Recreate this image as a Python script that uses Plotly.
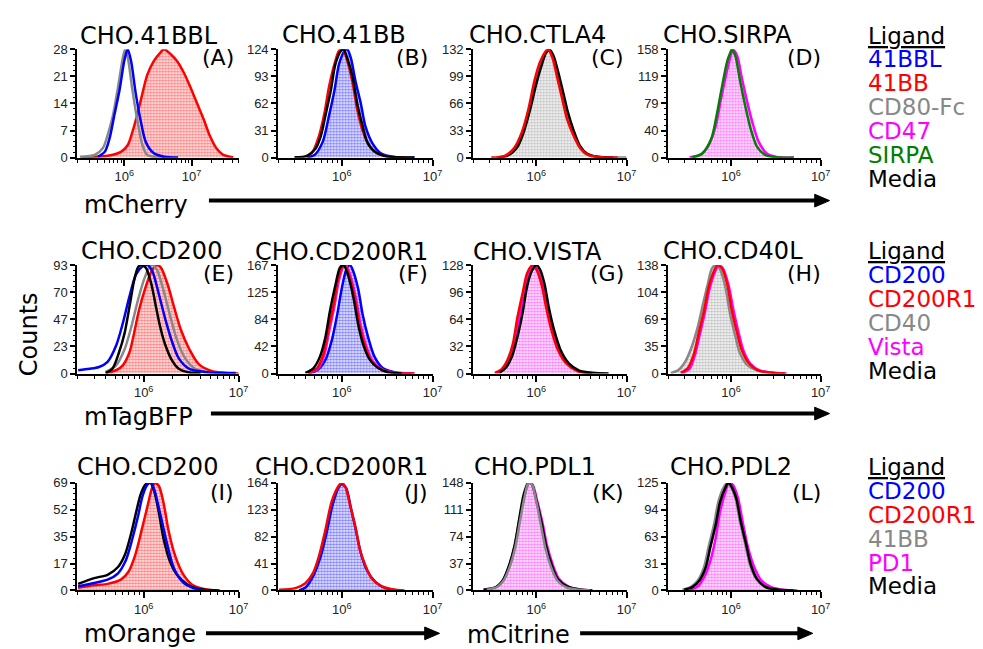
import plotly.graph_objects as go

W, H = 983, 649

# ---------------- DATA (log10 fluorescence, counts) ----------------
# Panel A  CHO.41BBL (mCherry)
A_41BB_x = [5.36, 5.75, 5.95, 6.05, 6.12, 6.2, 6.27, 6.34, 6.44, 6.54, 6.59, 6.69, 6.78, 6.88, 6.98, 7.08, 7.18, 7.27, 7.37, 7.47, 7.62]
A_41BB_y = [0.1, 0.5, 1.5, 3.2, 6.6, 11.6, 16.6, 21.3, 25, 27.2, 28, 26.7, 25, 22.1, 18.3, 14.1, 9.9, 5.7, 2.4, 0.7, 0.1]
A_CD80_x = [5.34, 5.56, 5.68, 5.75, 5.83, 5.9, 5.98, 6.01, 6.05, 6.12, 6.2, 6.27, 6.34, 6.44, 6.6]
A_CD80_y = [0.25, 0.7, 2.4, 5.7, 10.8, 17.5, 25.9, 27.8, 26, 17.5, 9, 3.2, 0.7, 0.2, 0]
A_41BBL_x = [5.61, 5.71, 5.78, 5.85, 5.93, 6.0, 6.05, 6.1, 6.17, 6.25, 6.32, 6.44, 6.59, 6.8]
A_41BBL_y = [0.25, 1.5, 4.9, 10.8, 17.5, 25, 28, 25, 16.6, 9, 4, 1.1, 0.25, 0]

# Panel B  CHO.41BB
B_41BBL_x = [5.62, 5.7, 5.79, 5.86, 5.92, 5.97, 6.03, 6.06, 6.1, 6.15, 6.21, 6.26, 6.34, 6.43, 6.58, 6.8]
B_41BBL_y = [0.4, 3, 18, 48, 77, 107, 122, 124, 114, 88, 62, 36, 16, 5, 0.7, 0]
B_41BB_x = [5.6, 5.68, 5.75, 5.81, 5.86, 5.92, 5.97, 6.01, 6.06, 6.12, 6.17, 6.23, 6.3, 6.39, 6.54, 6.7]
B_41BB_y = [1, 7, 25, 51, 81, 107, 122, 124, 111, 85, 55, 31, 14, 5, 0.7, 0]
B_Media_x = [5.48, 5.62, 5.71, 5.77, 5.82, 5.88, 5.93, 5.99, 6.02, 6.06, 6.12, 6.17, 6.23, 6.28, 6.36, 6.47, 6.61, 6.8]
B_Media_y = [0.4, 2, 10, 25, 48, 77, 107, 122, 124, 114, 92, 62, 36, 18, 7, 2, 0.4, 0]

# Panel C  CHO.CTLA4
C_CD80_x = [5.56, 5.67, 5.78, 5.85, 5.92, 6.0, 6.05, 6.11, 6.14, 6.18, 6.23, 6.29, 6.34, 6.4, 6.47, 6.54, 6.65, 6.8, 7.0]
C_CD80_y = [0.4, 2.4, 13, 31, 58, 94, 113, 129, 132, 125, 106, 78, 55, 35, 15, 5, 1.2, 0.4, 0]
C_Media_x = [5.58, 5.68, 5.79, 5.86, 5.93, 6.0, 6.06, 6.11, 6.15, 6.19, 6.24, 6.3, 6.35, 6.41, 6.48, 6.56, 6.68, 6.85]
C_Media_y = [0.4, 2.4, 13, 31, 58, 90, 113, 128, 131, 124, 105, 78, 55, 34, 15, 5, 1, 0]
C_41BB_x = [5.5, 5.64, 5.75, 5.84, 5.91, 5.98, 6.04, 6.1, 6.13, 6.18, 6.23, 6.29, 6.34, 6.42, 6.49, 6.58, 6.73, 6.9]
C_41BB_y = [0, 1.5, 11, 31, 58, 94, 116, 129, 132, 121, 98, 70, 47, 25, 11, 3, 0.4, 0]

# Panel D  CHO.SIRPA
D_CD47_x = [5.54, 5.66, 5.75, 5.83, 5.88, 5.94, 6.0, 6.02, 6.07, 6.12, 6.18, 6.24, 6.31, 6.4, 6.51, 6.7]
D_CD47_y = [0.5, 4, 18, 46, 79, 117, 150, 158, 148, 117, 82, 51, 23, 6, 1, 0]
D_SIRPA_x = [5.57, 5.68, 5.78, 5.84, 5.9, 5.96, 6.0, 6.01, 6.05, 6.1, 6.16, 6.22, 6.29, 6.38, 6.5, 6.7]
D_SIRPA_y = [0.5, 6, 27, 61, 103, 141, 155, 158, 148, 113, 75, 42, 16, 4, 0.5, 0]

# Panel E  CHO.CD200 (mTagBFP)
E_CD200R1_x = [5.6, 5.71, 5.78, 5.85, 5.9, 5.95, 6.02, 6.09, 6.14, 6.18, 6.25, 6.32, 6.39, 6.48, 6.58, 6.72, 6.86, 7.0]
E_CD200R1_y = [0.5, 2.8, 7, 18, 35, 54, 74, 89, 93, 91, 77, 57, 38, 21, 8, 2, 0.5, 0]
E_CD40_x = [5.6, 5.71, 5.8, 5.87, 5.94, 6.01, 6.06, 6.09, 6.14, 6.21, 6.28, 6.35, 6.43, 6.54, 6.71, 6.9]
E_CD40_y = [1.4, 7, 21, 40, 63, 82, 91, 93, 89, 71, 49, 29, 14, 4, 0.8, 0]
E_CD200_x = [5.31, 5.43, 5.53, 5.62, 5.71, 5.78, 5.85, 5.92, 5.99, 6.04, 6.09, 6.16, 6.23, 6.3, 6.37, 6.48, 6.65, 6.97]
E_CD200_y = [2.8, 4, 5.6, 10, 24, 43, 66, 85, 92, 93, 88, 68, 46, 27, 13, 4, 1.4, 0.5]
E_Media_x = [5.6, 5.67, 5.74, 5.8, 5.85, 5.9, 5.94, 5.97, 6.02, 6.08, 6.13, 6.18, 6.23, 6.3, 6.37, 6.48, 6.6]
E_Media_y = [0.5, 4, 18, 35, 57, 80, 91, 93, 91, 77, 57, 38, 24, 11, 4, 0.8, 0]

# Panel F  CHO.CD200R1 (mTagBFP)
F_CD200_x = [5.63, 5.73, 5.82, 5.89, 5.95, 6.0, 6.05, 6.09, 6.12, 6.18, 6.23, 6.29, 6.36, 6.45, 6.58, 6.77]
F_CD200_y = [0, 5, 21, 51, 91, 131, 160, 167, 160, 131, 91, 56, 26, 8.5, 2, 0]
F_Vista_x = [5.64, 5.74, 5.81, 5.86, 5.92, 5.97, 6.02, 6.05, 6.1, 6.16, 6.21, 6.27, 6.34, 6.45, 6.6, 6.8]
F_Vista_y = [1, 8, 30, 64, 104, 144, 165, 166, 148, 113, 73, 42, 19, 6, 1, 0]
F_CD200R1_x = [5.63, 5.73, 5.8, 5.85, 5.91, 5.96, 6.01, 6.04, 6.09, 6.15, 6.2, 6.26, 6.33, 6.44, 6.59, 6.8]
F_CD200R1_y = [1, 8.5, 31, 66, 106, 146, 165, 165, 146, 111, 71, 41, 18, 6, 1, 0]
F_Media_x = [5.6, 5.69, 5.76, 5.82, 5.87, 5.93, 5.98, 6.02, 6.07, 6.13, 6.18, 6.24, 6.31, 6.4, 6.51, 6.66]
F_Media_y = [1, 8.5, 26, 56, 96, 136, 163, 167, 151, 116, 76, 43, 21, 8.5, 2, 0]

# Panel G  CHO.VISTA
G_Vista_x = [5.56, 5.63, 5.7, 5.76, 5.81, 5.87, 5.92, 5.97, 6.01, 6.07, 6.12, 6.18, 6.25, 6.34, 6.47, 6.62]
G_Vista_y = [0.8, 4.6, 16, 35, 66, 96, 119, 128, 123, 104, 77, 50, 27.5, 12, 2.7, 0]
G_CD200R1_x = [5.54, 5.61, 5.68, 5.74, 5.79, 5.85, 5.9, 5.96, 6.0, 6.06, 6.11, 6.17, 6.24, 6.33, 6.46, 6.6]
G_CD200R1_y = [0.8, 4.6, 16, 35, 66, 96, 119, 128, 123, 104, 77, 50, 27.5, 12, 2.7, 0]
G_Media_x = [5.59, 5.66, 5.73, 5.79, 5.85, 5.9, 5.95, 6.0, 6.04, 6.09, 6.14, 6.2, 6.27, 6.36, 6.47, 6.62, 6.8]
G_Media_y = [0.8, 6.5, 20, 43, 73, 104, 121, 128, 123, 106, 77, 50, 27.5, 12, 3.8, 0.8, 0]

# Panel H  CHO.CD40L
H_CD40_x = [5.33, 5.41, 5.48, 5.55, 5.63, 5.68, 5.74, 5.79, 5.84, 5.88, 5.94, 5.99, 6.05, 6.1, 6.18, 6.29, 6.43, 6.61]
H_CD40_y = [0.8, 4, 13, 30, 59, 84, 113, 134, 138, 132, 109, 76, 47, 26, 11, 4, 1.7, 0]
H_Vista_x = [5.46, 5.54, 5.6, 5.65, 5.71, 5.76, 5.82, 5.86, 5.91, 5.97, 6.03, 6.09, 6.14, 6.22, 6.32, 6.48, 6.62]
H_Vista_y = [0.8, 6, 24, 48, 78, 107, 129, 137, 134, 114, 80, 50, 29, 12, 4, 0.8, 0]
H_CD200R1_x = [5.44, 5.52, 5.59, 5.64, 5.7, 5.75, 5.81, 5.85, 5.9, 5.96, 6.01, 6.07, 6.12, 6.2, 6.3, 6.47, 6.6]
H_CD200R1_y = [0.8, 7, 26, 51, 80, 109, 130, 138, 134, 113, 80, 51, 30, 13, 4, 0.8, 0]

# Panel I  CHO.CD200 (mOrange)
I_CD200R1_x = [5.31, 5.48, 5.62, 5.76, 5.84, 5.91, 5.98, 6.04, 6.09, 6.12, 6.16, 6.21, 6.26, 6.33, 6.42, 6.52, 6.66, 6.77]
I_CD200R1_y = [1.7, 3.3, 4.2, 6.9, 12, 22.5, 39, 54, 66, 69, 67, 56, 39, 22.5, 10, 3.3, 0.6, 0]
I_Media_x = [5.31, 5.48, 5.62, 5.73, 5.8, 5.87, 5.92, 5.97, 6.02, 6.07, 6.11, 6.16, 6.21, 6.28, 6.35, 6.46, 6.56, 6.67, 6.8]
I_Media_y = [4.2, 7.9, 10, 15, 22.5, 37, 50, 62, 68, 69, 64, 50, 33, 18, 10, 3.8, 1.2, 0.2, 0]
I_CD200_x = [5.31, 5.48, 5.62, 5.73, 5.81, 5.88, 5.94, 5.99, 6.04, 6.08, 6.12, 6.18, 6.25, 6.32, 6.42, 6.56, 6.7]
I_CD200_y = [2.7, 4.8, 6.9, 11, 19, 33, 47.5, 61, 68, 69, 63, 47.5, 29, 14, 4.8, 0.8, 0]

# Panel J  CHO.CD200R1 (mOrange)
J_CD200_x = [5.53, 5.6, 5.69, 5.77, 5.84, 5.9, 5.97, 6.0, 6.05, 6.1, 6.16, 6.21, 6.28, 6.37, 6.48, 6.62]
J_CD200_y = [0, 4.4, 23, 52.5, 92, 131, 158, 162, 155.5, 126, 89, 57, 30, 13, 3.4, 0]
J_CD200R1_x = [5.31, 5.49, 5.6, 5.68, 5.75, 5.82, 5.89, 5.97, 6.0, 6.04, 6.09, 6.15, 6.2, 6.26, 6.33, 6.44, 6.59, 6.69]
J_CD200R1_y = [1, 3.4, 11, 25.5, 52.5, 92, 136, 160.5, 164, 158, 131, 97, 62, 38, 18, 6, 1, 0]

# Panel K  CHO.PDL1 (mCitrine)
K_PD1_x = [5.41, 5.56, 5.63, 5.7, 5.76, 5.81, 5.87, 5.92, 5.96, 6.01, 6.07, 6.12, 6.18, 6.25, 6.36, 6.51, 6.62]
K_PD1_y = [1, 5, 14, 34, 61, 96, 131, 148, 145, 123, 92, 61, 36, 16, 5, 0.9, 0]
K_Media_x = [5.42, 5.56, 5.63, 5.7, 5.76, 5.81, 5.86, 5.91, 5.95, 6.0, 6.06, 6.11, 6.17, 6.24, 6.35, 6.5, 6.62]
K_Media_y = [1, 5, 14, 35, 62, 98, 132, 148, 146, 124, 92, 60, 35, 15, 5, 0.9, 0]
K_41BB_x = [5.45, 5.57, 5.64, 5.71, 5.77, 5.82, 5.87, 5.91, 5.95, 6.0, 6.05, 6.1, 6.16, 6.23, 6.33, 6.48, 6.6]
K_41BB_y = [1, 5, 14, 34, 61, 96, 129, 147, 146, 122, 90, 58, 33, 14, 4, 0.8, 0]

# Panel L  CHO.PDL2 (mCitrine)
L_PD1_x = [5.54, 5.63, 5.7, 5.77, 5.83, 5.88, 5.94, 5.98, 6.02, 6.08, 6.13, 6.19, 6.26, 6.34, 6.45, 6.59, 6.74]
L_PD1_y = [0.8, 4.6, 15, 34, 61, 92, 115, 125, 123, 107, 80, 50, 27, 11.5, 3.8, 0.8, 0]
L_41BB_x = [5.46, 5.55, 5.63, 5.7, 5.75, 5.81, 5.86, 5.92, 5.96, 5.99, 6.05, 6.1, 6.16, 6.21, 6.28, 6.38, 6.52, 6.7]
L_41BB_y = [0.8, 3.8, 11.5, 27, 50, 76, 103, 120, 125, 122, 107, 80, 53.5, 30.5, 13.4, 3.8, 0.8, 0]
L_Media_x = [5.48, 5.57, 5.65, 5.72, 5.77, 5.83, 5.88, 5.94, 5.97, 6.0, 6.06, 6.11, 6.17, 6.22, 6.29, 6.39, 6.53, 6.7]
L_Media_y = [0.8, 3.8, 11.5, 27, 50, 76, 103, 120, 125, 122, 107, 80, 53.5, 30.5, 13.4, 3.8, 0.8, 0]

panel_titles = ["CHO.41BBL", "CHO.41BB", "CHO.CTLA4", "CHO.SIRPA",
                "CHO.CD200", "CHO.CD200R1", "CHO.VISTA", "CHO.CD40L",
                "CHO.CD200", "CHO.CD200R1", "CHO.PDL1", "CHO.PDL2"]
panel_letters = ["(A)", "(B)", "(C)", "(D)", "(E)", "(F)", "(G)", "(H)", "(I)", "(J)", "(K)", "(L)"]
y_tick_labels = [[0, 7, 14, 21, 28], [0, 31, 62, 93, 124], [0, 33, 66, 99, 132], [0, 40, 79, 119, 158],
                 [0, 23, 47, 70, 93], [0, 42, 84, 125, 167], [0, 32, 64, 96, 128], [0, 35, 69, 104, 138],
                 [0, 17, 35, 52, 69], [0, 41, 82, 123, 164], [0, 37, 74, 111, 148], [0, 31, 63, 94, 125]]
y_max = [28, 124, 132, 158, 93, 167, 128, 138, 69, 164, 148, 125]
x_log_max = [7.7, 7.0, 7.0, 7.0, 7.0, 7.0, 7.0, 7.0, 7.0, 7.0, 7.0, 7.0]
x_log_min = 5.301

legend_row1 = ["41BBL", "41BB", "CD80-Fc", "CD47", "SIRPA", "Media"]
legend_row2 = ["CD200", "CD200R1", "CD40", "Vista", "Media"]
legend_row3 = ["CD200", "CD200R1", "41BB", "PD1", "Media"]
channels = ["mCherry", "mTagBFP", "mOrange", "mCitrine"]

# per-panel curves: (x, y, colour, filled)
panels = [
    [(A_41BB_x, A_41BB_y, "#ff0000", True), (A_CD80_x, A_CD80_y, "#888888", False), (A_41BBL_x, A_41BBL_y, "#0000ff", False)],
    [(B_41BBL_x, B_41BBL_y, "#0000ff", True), (B_41BB_x, B_41BB_y, "#ff0000", False), (B_Media_x, B_Media_y, "#000000", False)],
    [(C_CD80_x, C_CD80_y, "#888888", True), (C_Media_x, C_Media_y, "#000000", False), (C_41BB_x, C_41BB_y, "#ff0000", False)],
    [(D_CD47_x, D_CD47_y, "#ff00ff", True), (D_SIRPA_x, D_SIRPA_y, "#008000", False)],
    [(E_CD200R1_x, E_CD200R1_y, "#ff0000", True), (E_CD40_x, E_CD40_y, "#888888", False), (E_CD200_x, E_CD200_y, "#0000ff", False), (E_Media_x, E_Media_y, "#000000", False)],
    [(F_CD200_x, F_CD200_y, "#0000ff", True), (F_Vista_x, F_Vista_y, "#ff00ff", False), (F_CD200R1_x, F_CD200R1_y, "#ff0000", False), (F_Media_x, F_Media_y, "#000000", False)],
    [(G_Vista_x, G_Vista_y, "#ff00ff", True), (G_CD200R1_x, G_CD200R1_y, "#ff0000", False), (G_Media_x, G_Media_y, "#000000", False)],
    [(H_CD40_x, H_CD40_y, "#888888", True), (H_Vista_x, H_Vista_y, "#ff00ff", False), (H_CD200R1_x, H_CD200R1_y, "#ff0000", False)],
    [(I_CD200R1_x, I_CD200R1_y, "#ff0000", True), (I_Media_x, I_Media_y, "#000000", False), (I_CD200_x, I_CD200_y, "#0000ff", False)],
    [(J_CD200_x, J_CD200_y, "#0000ff", True), (J_CD200R1_x, J_CD200R1_y, "#ff0000", False)],
    [(K_PD1_x, K_PD1_y, "#ff00ff", True), (K_Media_x, K_Media_y, "#000000", False), (K_41BB_x, K_41BB_y, "#888888", False)],
    [(L_PD1_x, L_PD1_y, "#ff00ff", True), (L_41BB_x, L_41BB_y, "#888888", False), (L_Media_x, L_Media_y, "#000000", False)],
]

cols_px = [(70, 233), (273, 429), (470, 625), (667, 821)]
rows_px = [(35, 146), (256, 367), (479, 589)]
title_pos = [(142, 21), (339, 20), (535, 20), (727, 20),
             (145, 242), (337, 243), (535, 243), (732, 242),
             (141, 463), (337, 463), (532, 463), (730, 463)]
letter_right = [230, 426, 624, 823]
letter_y = [43, 265, 489]

TITLE_FONT = "DejaVu Sans"
TICK_FONT = "Liberation Sans"


def px(x):
    return x / W


def py(y):
    return 1 - y / H


fig = go.Figure()
layout = dict(width=W, height=H, margin=dict(l=0, r=0, t=0, b=0),
              paper_bgcolor="white", plot_bgcolor="white", showlegend=False)

minor_x = [a * 10 ** e for e in (5, 6, 7) for a in range(2, 10)]
annotations = []
shapes = []

for i in range(12):
    r, c = divmod(i, 4)
    n = "" if i == 0 else str(i + 1)
    xa, ya = "x" + n, "y" + n
    x0, x1 = cols_px[c]
    y0, y1 = rows_px[r]
    ym = y_max[i]
    for (xs, ys, colr, filled) in panels[i]:
        xv = [10 ** v for v in xs]
        if filled:
            fig.add_trace(go.Scatter(
                x=xv, y=ys, xaxis=xa, yaxis=ya, mode="lines",
                line=dict(color=colr, width=2.5, shape="spline", smoothing=0.8),
                fill="tozeroy",
                fillpattern=dict(shape=".", fgcolor=colr, bgcolor="white", size=3, solidity=0.6),
                fillcolor="white", hoverinfo="skip", cliponaxis=False))
        else:
            fig.add_trace(go.Scatter(
                x=xv, y=ys, xaxis=xa, yaxis=ya, mode="lines",
                line=dict(color=colr, width=2.5, shape="spline", smoothing=0.8),
                hoverinfo="skip", cliponaxis=False))

    layout["xaxis" + n] = dict(
        domain=[px(x0), px(x1)], anchor=ya, type="log",
        range=[x_log_min, x_log_max[i]],
        tickmode="array", tickvals=[1e6, 1e7],
        ticktext=["10<sup>6</sup>", "10<sup>7</sup>"],
        ticks="outside", ticklen=6, tickwidth=1.5, tickcolor="black",
        minor=dict(tickmode="array", tickvals=minor_x, ticks="outside", ticklen=3,
                   tickwidth=1, tickcolor="black"),
        showline=True, linewidth=2, linecolor="black", showgrid=False, zeroline=False,
        tickfont=dict(family=TICK_FONT, size=13, color="#222"), ticklabelstandoff=0)
    layout["yaxis" + n] = dict(
        domain=[py(y1), py(y0)], anchor=xa, range=[0, ym],
        tickmode="array", tickvals=[ym * k / 4 for k in range(5)],
        ticktext=[str(v) for v in y_tick_labels[i]],
        ticks="outside", ticklen=5, tickwidth=1.5, tickcolor="black",
        minor=dict(tickmode="linear", tick0=0, dtick=ym / 20, ticks="outside",
                   ticklen=2, tickwidth=1, tickcolor="black"),
        showline=True, linewidth=2, linecolor="black", showgrid=False, zeroline=False,
        tickfont=dict(family=TICK_FONT, size=13, color="#222"))

    tx, ty = title_pos[i]
    annotations.append(dict(x=px(tx), y=py(ty), xref="paper", yref="paper", text=panel_titles[i],
                            showarrow=False, xanchor="center", yanchor="middle",
                            font=dict(family=TITLE_FONT, size=24, color="black")))
    annotations.append(dict(x=px(letter_right[c]), y=py(letter_y[r]), xref="paper", yref="paper",
                            text=panel_letters[i], showarrow=False, xanchor="right", yanchor="middle",
                            font=dict(family=TITLE_FONT, size=22, color="black")))

# Legends
leg_colors = {"41BBL": "#0000ff", "41BB": "#ff0000", "CD80-Fc": "#888888", "CD47": "#ff00ff",
              "SIRPA": "#008000", "Media": "#000000", "CD200": "#0000ff", "CD200R1": "#ff0000",
              "CD40": "#888888", "Vista": "#ff00ff", "PD1": "#ff00ff"}
leg_row_colors = [leg_colors, leg_colors, dict(leg_colors, **{"41BB": "#888888"})]
for rr, (items, top) in enumerate([(legend_row1, 21), (legend_row2, 242), (legend_row3, 463)]):
    annotations.append(dict(x=px(867), y=py(top), xref="paper", yref="paper", text="<u>Ligand</u>",
                            showarrow=False, xanchor="left", yanchor="middle",
                            font=dict(family=TITLE_FONT, size=23, color="black")))
    for k, name in enumerate(items):
        annotations.append(dict(x=px(867), y=py(top + 24.4 * (k + 1)), xref="paper", yref="paper",
                                text=name, showarrow=False, xanchor="left", yanchor="middle",
                                font=dict(family=TITLE_FONT, size=23, color=leg_row_colors[rr][name])))

# Channel labels & arrows
chan_pos = [(75, 194), (75, 412), (75, 634), (462, 635)]
for name, (cx, cy) in zip(channels, chan_pos):
    annotations.append(dict(x=px(cx), y=py(cy), xref="paper", yref="paper", text=name,
                            showarrow=False, xanchor="left", yanchor="middle",
                            font=dict(family=TITLE_FONT, size=24, color="black")))

arrows = [(203, 830, 190), (205, 830, 408), (200, 436, 633), (578, 813, 633)]
for (ax0, ax1, ay) in arrows:
    shapes.append(dict(type="line", xref="paper", yref="paper", x0=px(ax0), x1=px(ax1 - 10),
                       y0=py(ay), y1=py(ay), line=dict(color="black", width=4)))
    shapes.append(dict(type="path", xref="paper", yref="paper",
                       path=f"M {px(ax1)} {py(ay)} L {px(ax1 - 15)} {py(ay - 6.5)} L {px(ax1 - 15)} {py(ay + 6.5)} Z",
                       fillcolor="black", line=dict(color="black", width=1)))

annotations.append(dict(x=px(22), y=py(327), xref="paper", yref="paper", text="Counts",
                        showarrow=False, textangle=-90, xanchor="center", yanchor="middle",
                        font=dict(family=TITLE_FONT, size=24, color="black")))

layout["annotations"] = annotations
layout["shapes"] = shapes
fig.update_layout(**layout)
fig.write_html("out.html")
